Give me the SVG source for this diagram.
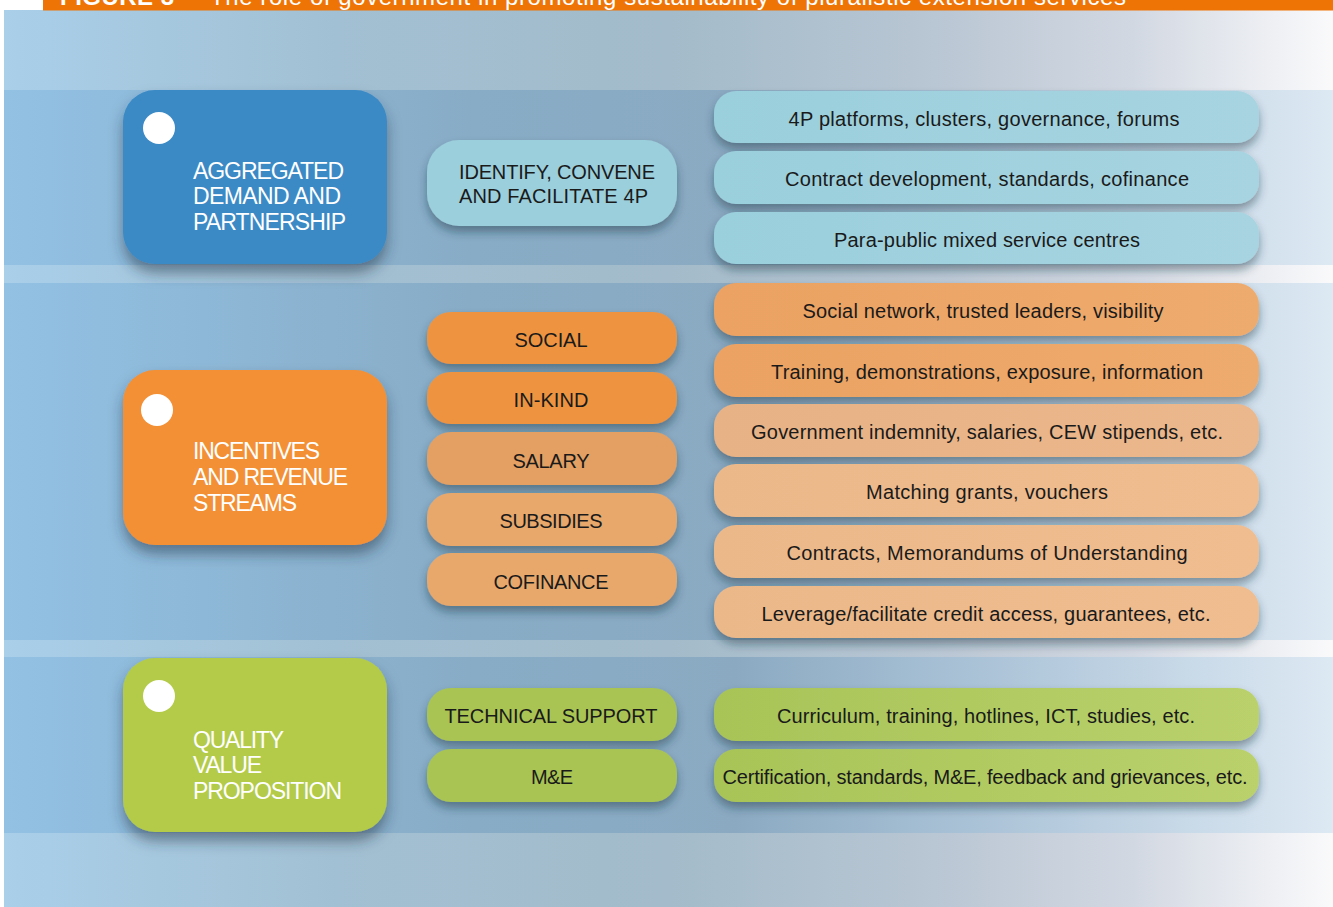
<svg xmlns="http://www.w3.org/2000/svg" width="1333" height="907" viewBox="0 0 1333 907">
  <defs>
    <linearGradient id="bgGrad" x1="0" y1="0" x2="1" y2="0">
      <stop offset="0" stop-color="#a9cfe9"/>
      <stop offset="0.25" stop-color="#a2c0d3"/>
      <stop offset="0.5" stop-color="#a3bbca"/>
      <stop offset="0.7" stop-color="#b9c6d3"/>
      <stop offset="0.85" stop-color="#d2d8e2"/>
      <stop offset="1" stop-color="#fafafb"/>
    </linearGradient>
    <linearGradient id="bandGrad" x1="0" y1="0" x2="1" y2="0">
      <stop offset="0" stop-color="#92c1e4"/>
      <stop offset="0.35" stop-color="#88acc6"/>
      <stop offset="0.55" stop-color="#8baac2"/>
      <stop offset="0.78" stop-color="#b3c9dc"/>
      <stop offset="1" stop-color="#dde9f3"/>
    </linearGradient>
    <linearGradient id="blueItem" x1="0" y1="0" x2="1" y2="0">
      <stop offset="0" stop-color="#9acfdc"/>
      <stop offset="1" stop-color="#a7d4e0"/>
    </linearGradient>
    <linearGradient id="orangeItem" x1="0" y1="0" x2="1" y2="0">
      <stop offset="0" stop-color="#eba262"/>
      <stop offset="1" stop-color="#eeab6e"/>
    </linearGradient>
    <linearGradient id="paleItem" x1="0" y1="0" x2="1" y2="0">
      <stop offset="0" stop-color="#e7b285"/>
      <stop offset="1" stop-color="#ebb78c"/>
    </linearGradient>
    <linearGradient id="peachItem" x1="0" y1="0" x2="1" y2="0">
      <stop offset="0" stop-color="#ebb88a"/>
      <stop offset="1" stop-color="#efbd8f"/>
    </linearGradient>
    <linearGradient id="greenItem" x1="0" y1="0" x2="1" y2="0">
      <stop offset="0" stop-color="#a8c457"/>
      <stop offset="1" stop-color="#bad16c"/>
    </linearGradient>
    <filter id="shadow" x="-10%" y="-30%" width="120%" height="170%">
      <feDropShadow dx="0" dy="6" stdDeviation="5" flood-color="#1e3040" flood-opacity="0.45"/>
    </filter>
    <filter id="bigShadow" x="-15%" y="-15%" width="130%" height="140%">
      <feDropShadow dx="0" dy="9" stdDeviation="7" flood-color="#1e3040" flood-opacity="0.5"/>
    </filter>
  </defs>
  <style>
    .head { fill: #1a1a1a; font-family: "Liberation Sans", Arial, sans-serif; font-size: 20px; }
    .mid { text-anchor: middle; }
    .big { fill: #ffffff; font-family: "Liberation Sans", Arial, sans-serif; font-size: 23px; }
    .dot { fill: #ffffff; }
    .title { fill: #ffffff; font-family: "Liberation Sans", Arial, sans-serif; font-size: 24px; }
  </style>

  <!-- page background and title bar -->
  <rect x="0" y="0" width="1333" height="907" fill="#ffffff"/>
  <rect x="4" y="10" width="1329" height="897" fill="url(#bgGrad)"/>
  <rect x="43" y="0" width="1290" height="10.5" fill="#ef7406"/>
  <text class="title" x="60" y="5"><tspan font-weight="bold" textLength="114">FIGURE 3</tspan><tspan x="210" textLength="916">The role of government in promoting sustainability of pluralistic extension services</tspan></text>

  <!-- horizontal bands -->
  <rect x="4" y="90" width="1329" height="175" fill="url(#bandGrad)"/>
  <rect x="4" y="283" width="1329" height="357" fill="url(#bandGrad)"/>
  <rect x="4" y="657" width="1329" height="176" fill="url(#bandGrad)"/>

  <!-- connectors: none drawn -->
  <g id="connectors"/>

  <!-- row 1: aggregated demand and partnership -->
  <g id="aggregated">
    <rect x="123" y="90" width="264" height="174" rx="32" fill="#3a8ac6" filter="url(#bigShadow)"/>
    <circle class="dot" cx="159" cy="128" r="16"/>
    <text class="big" x="193" y="179" textLength="151">AGGREGATED</text>
    <text class="big" x="193" y="204" textLength="148">DEMAND AND</text>
    <text class="big" x="193" y="230" textLength="153">PARTNERSHIP</text>
  </g>
  <g id="identify">
    <rect x="427" y="140" width="250" height="86" rx="32" fill="#9bcfdc" filter="url(#shadow)"/>
    <text class="head" x="459" y="179" textLength="196">IDENTIFY, CONVENE</text>
    <text class="head" x="459" y="203" textLength="189">AND FACILITATE 4P</text>
  </g>
  <g id="platforms">
    <rect x="714" y="91" width="545" height="52" rx="22" fill="url(#blueItem)" filter="url(#shadow)"/>
    <text class="head mid" x="984" y="126" textLength="391">4P platforms, clusters, governance, forums</text>
  </g>
  <g id="contract-dev">
    <rect x="714" y="151" width="545" height="53" rx="22" fill="url(#blueItem)" filter="url(#shadow)"/>
    <text class="head mid" x="987" y="186" textLength="404">Contract development, standards, cofinance</text>
  </g>
  <g id="para-public">
    <rect x="714" y="212" width="545" height="52" rx="22" fill="url(#blueItem)" filter="url(#shadow)"/>
    <text class="head mid" x="987" y="247" textLength="306">Para-public mixed service centres</text>
  </g>

  <!-- row 2: incentives and revenue streams -->
  <g id="incentives">
    <rect x="123" y="370" width="264" height="175" rx="32" fill="#f39034" filter="url(#bigShadow)"/>
    <circle class="dot" cx="157" cy="410" r="16"/>
    <text class="big" x="193" y="459" textLength="127">INCENTIVES</text>
    <text class="big" x="193" y="485" textLength="155">AND REVENUE</text>
    <text class="big" x="193" y="511" textLength="104">STREAMS</text>
  </g>
  <g id="social">
    <rect x="427" y="312" width="250" height="52" rx="24" fill="#ee9441" filter="url(#shadow)"/>
    <text class="head mid" x="551" y="347" textLength="73">SOCIAL</text>
  </g>
  <g id="in-kind">
    <rect x="427" y="372" width="250" height="52" rx="24" fill="#ee9441" filter="url(#shadow)"/>
    <text class="head mid" x="551" y="407" textLength="75">IN-KIND</text>
  </g>
  <g id="salary">
    <rect x="427" y="432" width="250" height="53" rx="24" fill="#e4a062" filter="url(#shadow)"/>
    <text class="head mid" x="551" y="468" textLength="77">SALARY</text>
  </g>
  <g id="subsidies">
    <rect x="427" y="493" width="250" height="53" rx="24" fill="#e8a86c" filter="url(#shadow)"/>
    <text class="head mid" x="551" y="528" textLength="103">SUBSIDIES</text>
  </g>
  <g id="cofinance">
    <rect x="427" y="553" width="250" height="53" rx="24" fill="#e8a86c" filter="url(#shadow)"/>
    <text class="head mid" x="551" y="589" textLength="115">COFINANCE</text>
  </g>
  <g id="social-network">
    <rect x="714" y="283" width="545" height="53" rx="22" fill="url(#orangeItem)" filter="url(#shadow)"/>
    <text class="head mid" x="983" y="318" textLength="361">Social network, trusted leaders, visibility</text>
  </g>
  <g id="training">
    <rect x="714" y="344" width="545" height="53" rx="22" fill="url(#orangeItem)" filter="url(#shadow)"/>
    <text class="head mid" x="987" y="379" textLength="432">Training, demonstrations, exposure, information</text>
  </g>
  <g id="indemnity">
    <rect x="714" y="404" width="545" height="53" rx="22" fill="url(#paleItem)" filter="url(#shadow)"/>
    <text class="head mid" x="987" y="439" textLength="472">Government indemnity, salaries, CEW stipends, etc.</text>
  </g>
  <g id="grants">
    <rect x="714" y="464" width="545" height="53" rx="22" fill="url(#peachItem)" filter="url(#shadow)"/>
    <text class="head mid" x="987" y="499" textLength="242">Matching grants, vouchers</text>
  </g>
  <g id="contracts">
    <rect x="714" y="525" width="545" height="53" rx="22" fill="url(#peachItem)" filter="url(#shadow)"/>
    <text class="head mid" x="987" y="560" textLength="401">Contracts, Memorandums of Understanding</text>
  </g>
  <g id="credit">
    <rect x="714" y="586" width="545" height="52" rx="22" fill="url(#peachItem)" filter="url(#shadow)"/>
    <text class="head mid" x="986" y="621" textLength="449">Leverage/facilitate credit access, guarantees, etc.</text>
  </g>

  <!-- row 3: quality value proposition -->
  <g id="quality">
    <rect x="123" y="658" width="264" height="174" rx="32" fill="#b3cb48" filter="url(#bigShadow)"/>
    <circle class="dot" cx="159" cy="696" r="16"/>
    <text class="big" x="193" y="748" textLength="91">QUALITY</text>
    <text class="big" x="193" y="773" textLength="69">VALUE</text>
    <text class="big" x="193" y="799" textLength="149">PROPOSITION</text>
  </g>
  <g id="technical-support">
    <rect x="427" y="688" width="250" height="53" rx="24" fill="#a9c452" filter="url(#shadow)"/>
    <text class="head mid" x="551" y="723" textLength="213">TECHNICAL SUPPORT</text>
  </g>
  <g id="m-and-e">
    <rect x="427" y="749" width="250" height="53" rx="24" fill="#a9c452" filter="url(#shadow)"/>
    <text class="head mid" x="552" y="784" textLength="42">M&amp;E</text>
  </g>
  <g id="curriculum">
    <rect x="714" y="688" width="545" height="53" rx="22" fill="url(#greenItem)" filter="url(#shadow)"/>
    <text class="head mid" x="986" y="723" textLength="418">Curriculum, training, hotlines, ICT, studies, etc.</text>
  </g>
  <g id="certification">
    <rect x="714" y="749" width="545" height="53" rx="22" fill="url(#greenItem)" filter="url(#shadow)"/>
    <text class="head mid" x="985" y="784" textLength="525">Certification, standards, M&amp;E, feedback and grievances, etc.</text>
  </g>
</svg>
